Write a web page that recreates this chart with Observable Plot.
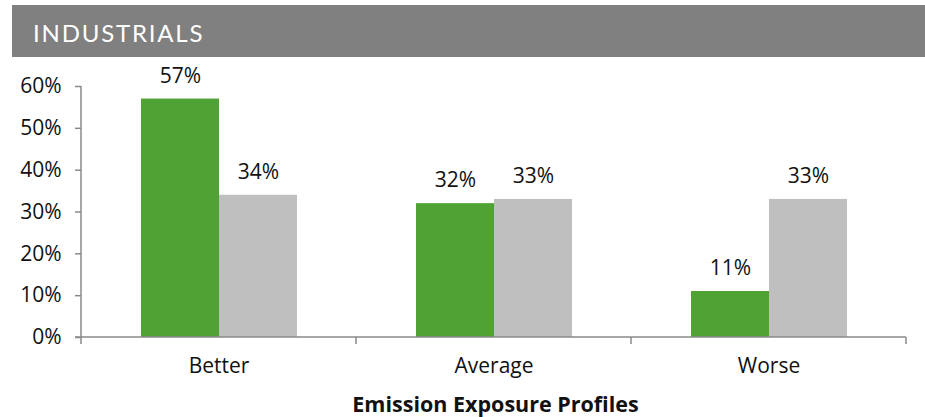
<!DOCTYPE html>
<html>
<head>
<meta charset="utf-8">
<script src="https://cdn.jsdelivr.net/npm/d3@7"></script>
<script src="https://cdn.jsdelivr.net/npm/@observablehq/plot@0.6"></script>
<style>
  html, body { margin: 0; padding: 0; background: #fff; }
  body { width: 925px; height: 417px; overflow: hidden; font-family: "Open Sans", Lato, sans-serif; }
  #header {
    margin: 5px 0 0 12px; height: 52px; background: #808080; color: #fff;
    font-family: Lato, sans-serif; font-size: 24px; letter-spacing: 1.8px;
    line-height: 55px; padding-left: 21px; box-sizing: border-box;
  }
  #xlabel {
    width: 925px; text-align: center; font-weight: bold; font-size: 21.5px;
    color: #111; line-height: 24px; padding-top: 8px; padding-left: 66px; box-sizing: border-box;
  }
  #chart svg [aria-label="y-axis tick"] path { stroke: #8a8a8a; stroke-width: 1.5px; }
</style>
</head>
<body>
<div id="header">INDUSTRIALS</div>
<div id="chart"></div>
<div id="xlabel">Emission Exposure Profiles</div>
<script>
const categories = ["Better", "Average", "Worse"];
const seriesNames = ["Industrials", "Benchmark"];
const industrials = [57, 32, 11];
const benchmark = [34, 33, 33];
const yTicks = [0, 10, 20, 30, 40, 50, 60];

const data = categories.flatMap((c, i) => [
  {profile: c, series: seriesNames[0], value: industrials[i]},
  {profile: c, series: seriesNames[1], value: benchmark[i]}
]);

const axisColor = "#8a8a8a";

// Drawn once, inside the first facet (whose local coordinates equal the plot's).
function frameLines(index, scales, values, dimensions, context, next) {
  const {marginLeft, marginRight, width} = dimensions;
  const y = scales.y;
  const fx = scales.fx;
  let bounds;
  if (fx) {
    const bw = typeof fx.bandwidth === "function" ? fx.bandwidth() : fx.bandwidth;
    bounds = categories.map(c => fx(c));
    bounds.push(fx(categories[categories.length - 1]) + bw);
  } else {
    const x0 = marginLeft, x1 = width - marginRight;
    bounds = d3.range(categories.length + 1).map(i => x0 + i * (x1 - x0) / categories.length);
  }
  const y0 = y(0), yTop = y(yTicks[yTicks.length - 1]);
  const g = d3.create("svg:g")
    .attr("stroke", axisColor).attr("stroke-width", 1.5).attr("fill", "none");
  g.append("line").attr("x1", bounds[0]).attr("x2", bounds[0]).attr("y1", yTop).attr("y2", y0);
  g.append("line").attr("x1", bounds[0] - 6).attr("x2", bounds[bounds.length - 1]).attr("y1", y0).attr("y2", y0);
  for (const b of bounds) {
    g.append("line").attr("x1", b).attr("x2", b).attr("y1", y0).attr("y2", y0 + 7);
  }
  return g.node();
}

const chart = Plot.plot({
  width: 925,
  height: 327,
  marginTop: 29,
  marginBottom: 47,
  marginLeft: 81,
  marginRight: 19,
  style: {fontFamily: "'Open Sans', Lato, sans-serif", fontSize: "21px", color: "#111", background: "#fff"},
  fx: {domain: categories, paddingInner: 0, paddingOuter: 0, axis: "bottom", tickSize: 0, tickPadding: 21, label: null, fontSize: 22},
  x: {domain: seriesNames, paddingInner: 0, paddingOuter: 0.75, align: 0.5, axis: null},
  y: {domain: [0, 60], ticks: yTicks, tickFormat: d => d + "%", tickSize: 6, tickPadding: 14, label: null},
  color: {domain: seriesNames, range: ["#50A235", "#BFBFBF"]},
  marks: [
    Plot.barY(data, {fx: "profile", x: "series", y: "value", fill: "series"}),
    Plot.text(data, {fx: "profile", x: "series", y: "value", text: d => d.value + "%", dy: -23, fill: "#111", fontSize: 21}),
    Plot.ruleY([categories[0]], {fx: d => d, y: () => 0, render: frameLines})
  ]
});
document.getElementById("chart").appendChild(chart);
</script>
</body>
</html>
